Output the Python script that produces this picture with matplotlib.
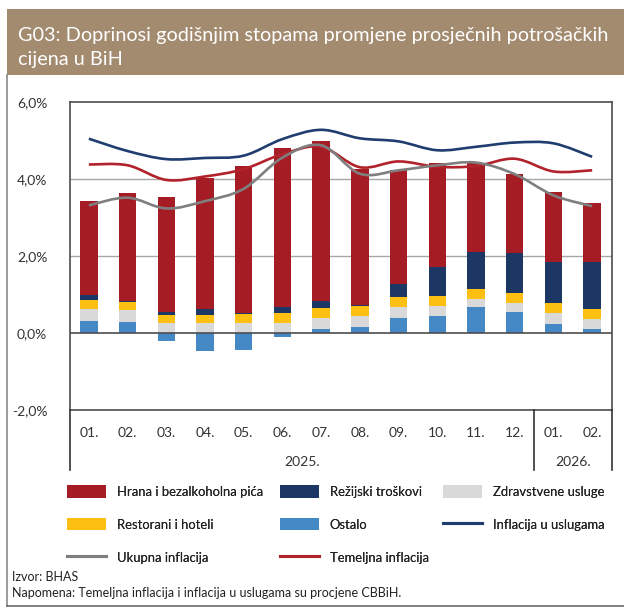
import numpy as np
import matplotlib
matplotlib.use("Agg")
import matplotlib.pyplot as plt
from matplotlib.path import Path
from matplotlib.patches import PathPatch, Rectangle, Patch
from matplotlib.lines import Line2D

plt.rcParams['font.family'] = ['Lato', 'DejaVu Sans']

months = ["01.", "02.", "03.", "04.", "05.", "06.", "07.", "08.", "09.", "10.", "11.", "12.", "01.", "02."]
years = ["2025.", "2026."]
year_counts = [12, 2]

ostalo = [0.30, 0.28, -0.20, -0.48, -0.45, -0.10, 0.10, 0.15, 0.39, 0.45, 0.66, 0.55, 0.24, 0.09]
zdravstvene = [0.32, 0.31, 0.25, 0.26, 0.27, 0.27, 0.28, 0.29, 0.27, 0.25, 0.23, 0.22, 0.28, 0.28]
restorani = [0.24, 0.20, 0.21, 0.20, 0.22, 0.25, 0.26, 0.25, 0.28, 0.27, 0.26, 0.27, 0.26, 0.24]
rezijski = [0.12, 0.05, 0.09, 0.15, 0.03, 0.15, 0.20, 0.03, 0.32, 0.75, 0.96, 1.04, 1.05, 1.22]
hrana = [2.44, 2.80, 2.99, 3.42, 3.81, 4.13, 4.14, 3.53, 2.98, 2.68, 2.31, 2.04, 1.83, 1.55]

usluge = [5.04, 4.72, 4.51, 4.54, 4.60, 5.03, 5.27, 5.05, 4.97, 4.74, 4.83, 4.94, 4.92, 4.57]
temeljna = [4.37, 4.35, 3.97, 4.06, 4.25, 4.64, 4.83, 4.30, 4.45, 4.31, 4.33, 4.52, 4.19, 4.22]
ukupna = [3.31, 3.51, 3.23, 3.42, 3.74, 4.55, 4.87, 4.13, 4.22, 4.35, 4.42, 4.12, 3.57, 3.29]

labels = ["Hrana i bezalkoholna pića", "Režijski troškovi", "Zdravstvene usluge",
          "Restorani i hoteli", "Ostalo", "Inflacija u uslugama",
          "Ukupna inflacija", "Temeljna inflacija"]

C_HRANA = "#A51C24"
C_REZ = "#1C3763"
C_ZDR = "#D9D9D9"
C_RES = "#FDC012"
C_OST = "#4488C6"
C_USL = "#1F3D6F"
C_UKU = "#7F7F7F"
C_TEM = "#B2222B"
BAND = "#A38B70"

W, H = 624, 612
fig = plt.figure(figsize=(W / 100, H / 100), dpi=100)

# outer frame and title band
fig.patches.append(Rectangle((7 / W, 1 - 75 / H), 1 - 7 / W, 66 / H, transform=fig.transFigure,
                             facecolor=BAND, edgecolor="none", zorder=0))
fig.add_artist(Line2D([7 / W, 7 / W], [1 - 75 / H, 1 - 606 / H], transform=fig.transFigure,
                      color="#8a8a8a", lw=1.2))
fig.add_artist(Line2D([7 / W, 1], [1 - 606 / H, 1 - 606 / H], transform=fig.transFigure,
                      color="#6a6a6a", lw=1.2))
fig.text(18 / W, 1 - 35 / H, "G03: Doprinosi godišnjim stopama promjene prosječnih potrošačkih",
         color="white", fontsize=14.3, va="center", ha="left")
fig.text(18 / W, 1 - 59 / H, "cijena u BiH",
         color="white", fontsize=14.3, va="center", ha="left")

ax = fig.add_axes([69.5 / W, 1 - 410 / H, (611.5 - 69.5) / W, (410 - 101.7) / H])

x = np.arange(len(months))
ost = np.array(ostalo)
pos_base = np.clip(ost, 0, None)
bw = 0.45
ax.bar(x, ost, bw, color=C_OST, zorder=2)
b1 = pos_base
ax.bar(x, zdravstvene, bw, bottom=b1, color=C_ZDR, zorder=2)
b2 = b1 + np.array(zdravstvene)
ax.bar(x, restorani, bw, bottom=b2, color=C_RES, zorder=2)
b3 = b2 + np.array(restorani)
ax.bar(x, rezijski, bw, bottom=b3, color=C_REZ, zorder=2)
b4 = b3 + np.array(rezijski)
ax.bar(x, hrana, bw, bottom=b4, color=C_HRANA, zorder=2)


def smooth_line(xs, ys, color):
    pts = np.column_stack([xs, ys]).astype(float)
    n = len(pts)
    verts = [pts[0]]
    codes = [Path.MOVETO]
    for i in range(n - 1):
        p0 = pts[i - 1] if i > 0 else pts[i]
        p1 = pts[i]
        p2 = pts[i + 1]
        p3 = pts[i + 2] if i + 2 < n else pts[i + 1]
        c1 = p1 + (p2 - p0) / 6.0
        c2 = p2 - (p3 - p1) / 6.0
        verts += [c1, c2, p2]
        codes += [Path.CURVE4] * 3
    ax.add_patch(PathPatch(Path(verts, codes), fill=False, edgecolor=color, lw=1.9,
                           zorder=4, capstyle="butt"))


smooth_line(x, usluge, C_USL)
smooth_line(x, temeljna, C_TEM)
smooth_line(x, ukupna, C_UKU)

ax.set_xlim(-0.5, len(months) - 0.5)
ax.set_ylim(-2, 6)
ax.set_yticks([-2, 0, 2, 4, 6])
ax.set_yticklabels(["-2,0%", "0,0%", "2,0%", "4,0%", "6,0%"])
ax.tick_params(axis="y", length=0, pad=16, labelsize=10, labelcolor="#333333")
ax.set_xticks([])
for yv in [2, 4]:
    ax.axhline(yv, color="#a6a6a6", lw=1.0, zorder=1)
ax.axhline(0, color="#4d4d4d", lw=1.2, zorder=3)
for s in ax.spines.values():
    s.set_color("#4d4d4d")
    s.set_linewidth(1.2)

# category axis box
ppu = (410 - 101.7) / 8.0
y_month = -2 - (433 - 410) / ppu
y_year = -2 - (462 - 410) / ppu
y_bot = -2 - (470 - 410) / ppu
for i, m in enumerate(months):
    ax.text(x[i], y_month, m, ha="center", va="center", fontsize=10, color="#333333", clip_on=False)
start = -0.5
for yr, cnt in zip(years, year_counts):
    ax.text(start + cnt / 2.0, y_year, yr, ha="center", va="center", fontsize=10, color="#333333", clip_on=False)
    start += cnt
bounds = [-0.5] + list(np.cumsum(year_counts) - 0.5)
for bx in bounds:
    ax.plot([bx, bx], [-2, y_bot], color="#333333", lw=1.2, clip_on=False, zorder=5)

# legend: three columns placed separately
h_hrana = Patch(facecolor=C_HRANA, edgecolor="none")
h_res = Patch(facecolor=C_RES, edgecolor="none")
h_uku = Line2D([], [], color=C_UKU, lw=2.2)
h_rez = Patch(facecolor=C_REZ, edgecolor="none")
h_ost = Patch(facecolor=C_OST, edgecolor="none")
h_tem = Line2D([], [], color=C_TEM, lw=2.2)
h_zdr = Patch(facecolor=C_ZDR, edgecolor="none")
h_usl = Line2D([], [], color=C_USL, lw=2.2)
columns = [
    (67, [h_hrana, h_res, h_uku], [labels[0], labels[3], labels[6]]),
    (280, [h_rez, h_ost, h_tem], [labels[1], labels[4], labels[7]]),
    (443, [h_zdr, h_usl], [labels[2], labels[5]]),
]
for cx, hs, ls in columns:
    lg = fig.legend(hs, ls, ncol=1, loc="upper left", bbox_to_anchor=(cx / W, 1 - 485 / H),
                    frameon=False, fontsize=9.4, handlelength=2.95, handleheight=1.1,
                    handletextpad=0.85, labelspacing=1.55, borderpad=0, borderaxespad=0,
                    labelcolor="#222222")
    fig.add_artist(lg)

fig.text(12 / W, 1 - 577 / H, "Izvor: BHAS", fontsize=9, va="center", ha="left", color="#222222")
fig.text(12 / W, 1 - 593 / H, "Napomena: Temeljna inflacija i inflacija u uslugama su procjene CBBiH.",
         fontsize=9, va="center", ha="left", color="#222222")

fig.savefig("out.png", dpi=100)
